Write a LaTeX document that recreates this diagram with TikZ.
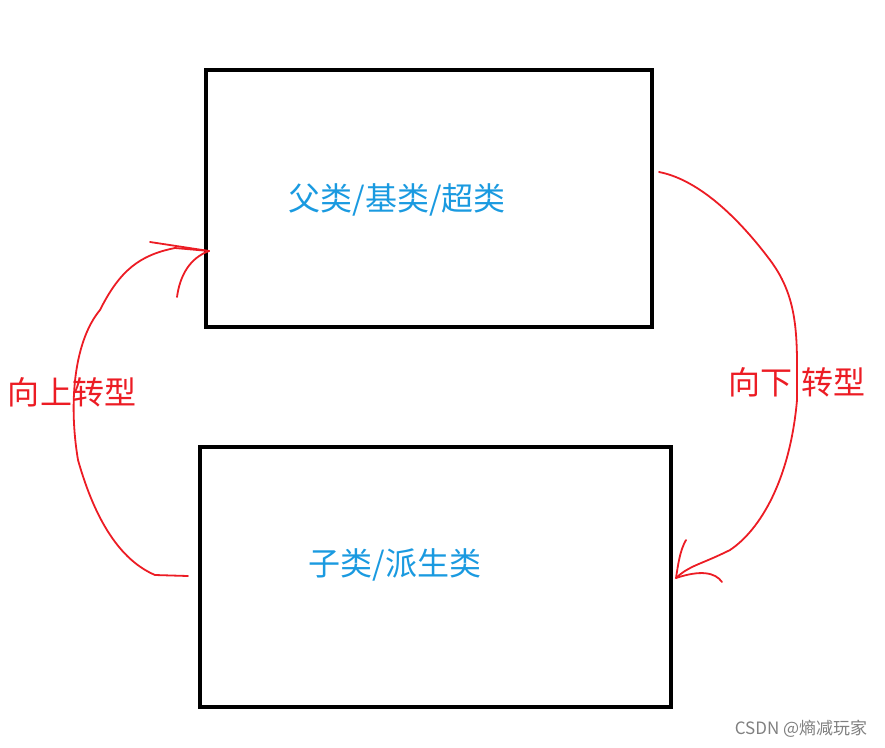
\documentclass[tikz,border=0pt]{standalone}
\usepackage{fontspec}
\setmainfont{Noto Sans CJK SC}
\begin{document}
\begin{tikzpicture}[x=1pt,y=-1pt,
  box/.style={draw,line width=3.5pt,inner sep=0pt},
  blue/.style={text=blueT,font=\fontsize{32}{36}\selectfont},
  redl/.style={text=redT,font=\fontsize{32}{36}\selectfont},
  hand/.style={draw=redT,line width=1.8pt,line cap=round,line join=round}]
\definecolor{blueT}{HTML}{1A9AE0}
\definecolor{redT}{HTML}{EC1C24}
\useasboundingbox (0,0) rectangle (885,747);
\node[box,minimum width=446pt,minimum height=257pt] (top) at (429,198.5) {};
\node[box,minimum width=471pt,minimum height=260pt] (bot) at (435.5,577) {};
\node[blue] (t1) at (397,200) {父类/基类/超类};
\node[blue] (t2) at (395,565) {子类/派生类};
\node[redl] (l1) at (72,392) {向上转型};
\node[redl] (l2) at (797,382) {向下\hspace{0.3em}转型};
\node[text=gray,font=\fontsize{17}{19}\selectfont] (wm) at (801,729) {CSDN @熵减玩家};
\coordinate (a0) at (188,576);
\coordinate (a1) at (209,251);
\coordinate (b0) at (659,172);
\coordinate (b1) at (676,578);
\draw[hand] (a0) -- (155,575) .. controls (120,560) and (95,520) .. (78,460)
  .. controls (68,400) and (75,340) .. (100,310)
  .. controls (120,270) and (140,255) .. (175,248) -- (a1);
\draw[hand] (150,242) -- (a1);
\draw[hand] (177,297) .. controls (180,275) and (190,258) .. (a1);
\draw[hand] (b0) .. controls (700,180) and (740,220) .. (770,260)
  .. controls (800,300) and (797,340) .. (797,400)
  .. controls (790,480) and (760,530) .. (730,550)
  .. controls (700,565) and (690,565) .. (b1);
\draw[hand] (686,540) .. controls (680,550) and (678,565) .. (b1);
\draw[hand] (722,582) .. controls (715,572) and (700,570) .. (b1);
\end{tikzpicture}
\end{document}
